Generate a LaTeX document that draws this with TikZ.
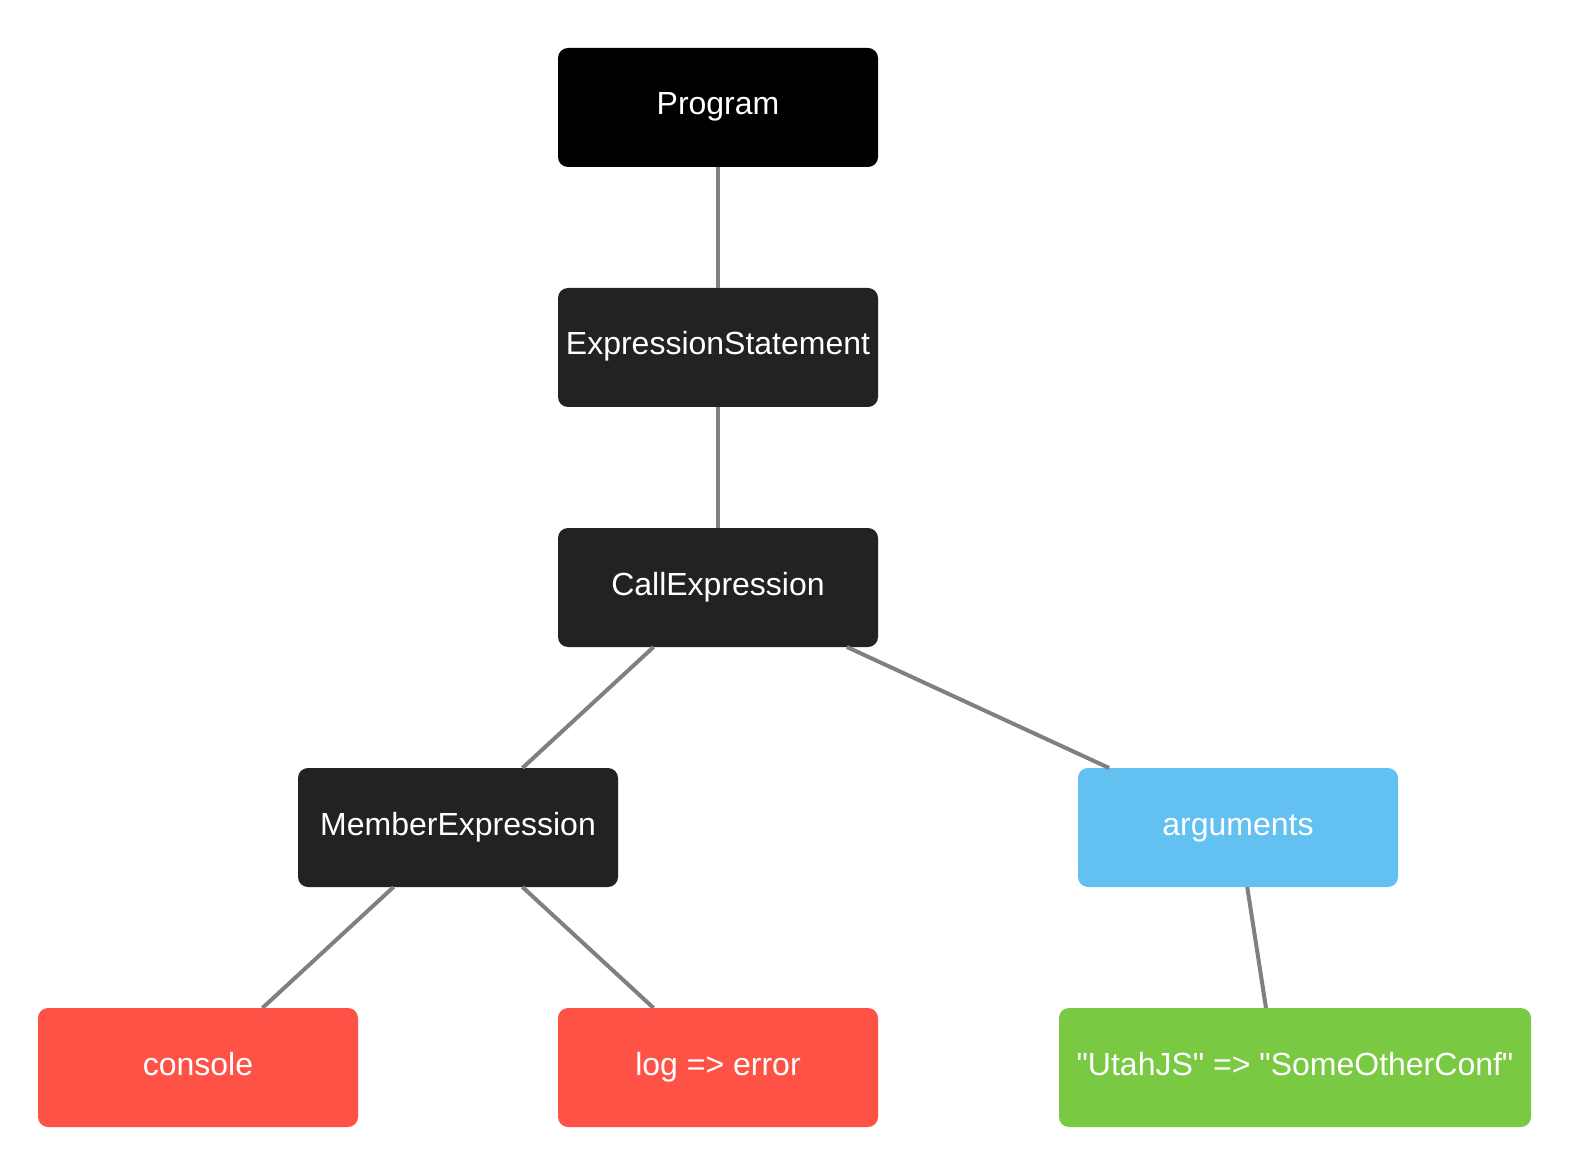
\documentclass[tikz,border=0pt]{standalone}
\usepackage{fontspec}
\setmainfont{Liberation Sans}
\definecolor{astdark}{HTML}{222222}
\definecolor{astred}{HTML}{FF5247}
\definecolor{astblue}{HTML}{63C1F2}
\definecolor{astgreen}{HTML}{7AC943}
\definecolor{astedge}{HTML}{808080}
\begin{document}
\begin{tikzpicture}[x=0.5pt, y=-0.5pt, every node/.style={minimum width=160pt, minimum height=59.5pt, text height=11.5pt, text depth=4pt, outer sep=0pt, inner sep=0pt, rounded corners=5pt, text=white, font=\fontsize{16}{19}\selectfont}, astnode/.style={fill=astdark}, edge/.style={draw=astedge, line width=2pt}]
        \useasboundingbox (0, 0) rectangle (1584, 1176);
        \node[fill=black] (program) at (718, 107.5) {Program};
        \node[astnode] (exprstmt) at (718, 347.5) {ExpressionStatement};
        \node[astnode] (callexpr) at (718, 587.5) {CallExpression};
        \node[astnode] (memberexpr) at (458, 827.5) {MemberExpression};
        \node[fill=astblue] (arguments) at (1238, 827.5) {arguments};
        \node[fill=astred] (console) at (198, 1067.5) {console};
        \node[fill=astred] (logerror) at (718, 1067.5) {log => error};
        \node[fill=astgreen, minimum width=236pt] (utahjs) at (1295, 1067.5) {\textquotedbl UtahJS\textquotedbl{} => \textquotedbl SomeOtherConf\textquotedbl};

        \draw[edge] (program) -- (exprstmt);
        \draw[edge] (exprstmt) -- (callexpr);
        \draw[edge] (callexpr) -- (memberexpr);
        \draw[edge] (callexpr) -- (arguments);
        \draw[edge] (memberexpr) -- (console);
        \draw[edge] (memberexpr) -- (logerror);
        \draw[edge] (arguments) -- ([xshift=-14.5pt]utahjs.north);
    \end{tikzpicture}
\end{document}
